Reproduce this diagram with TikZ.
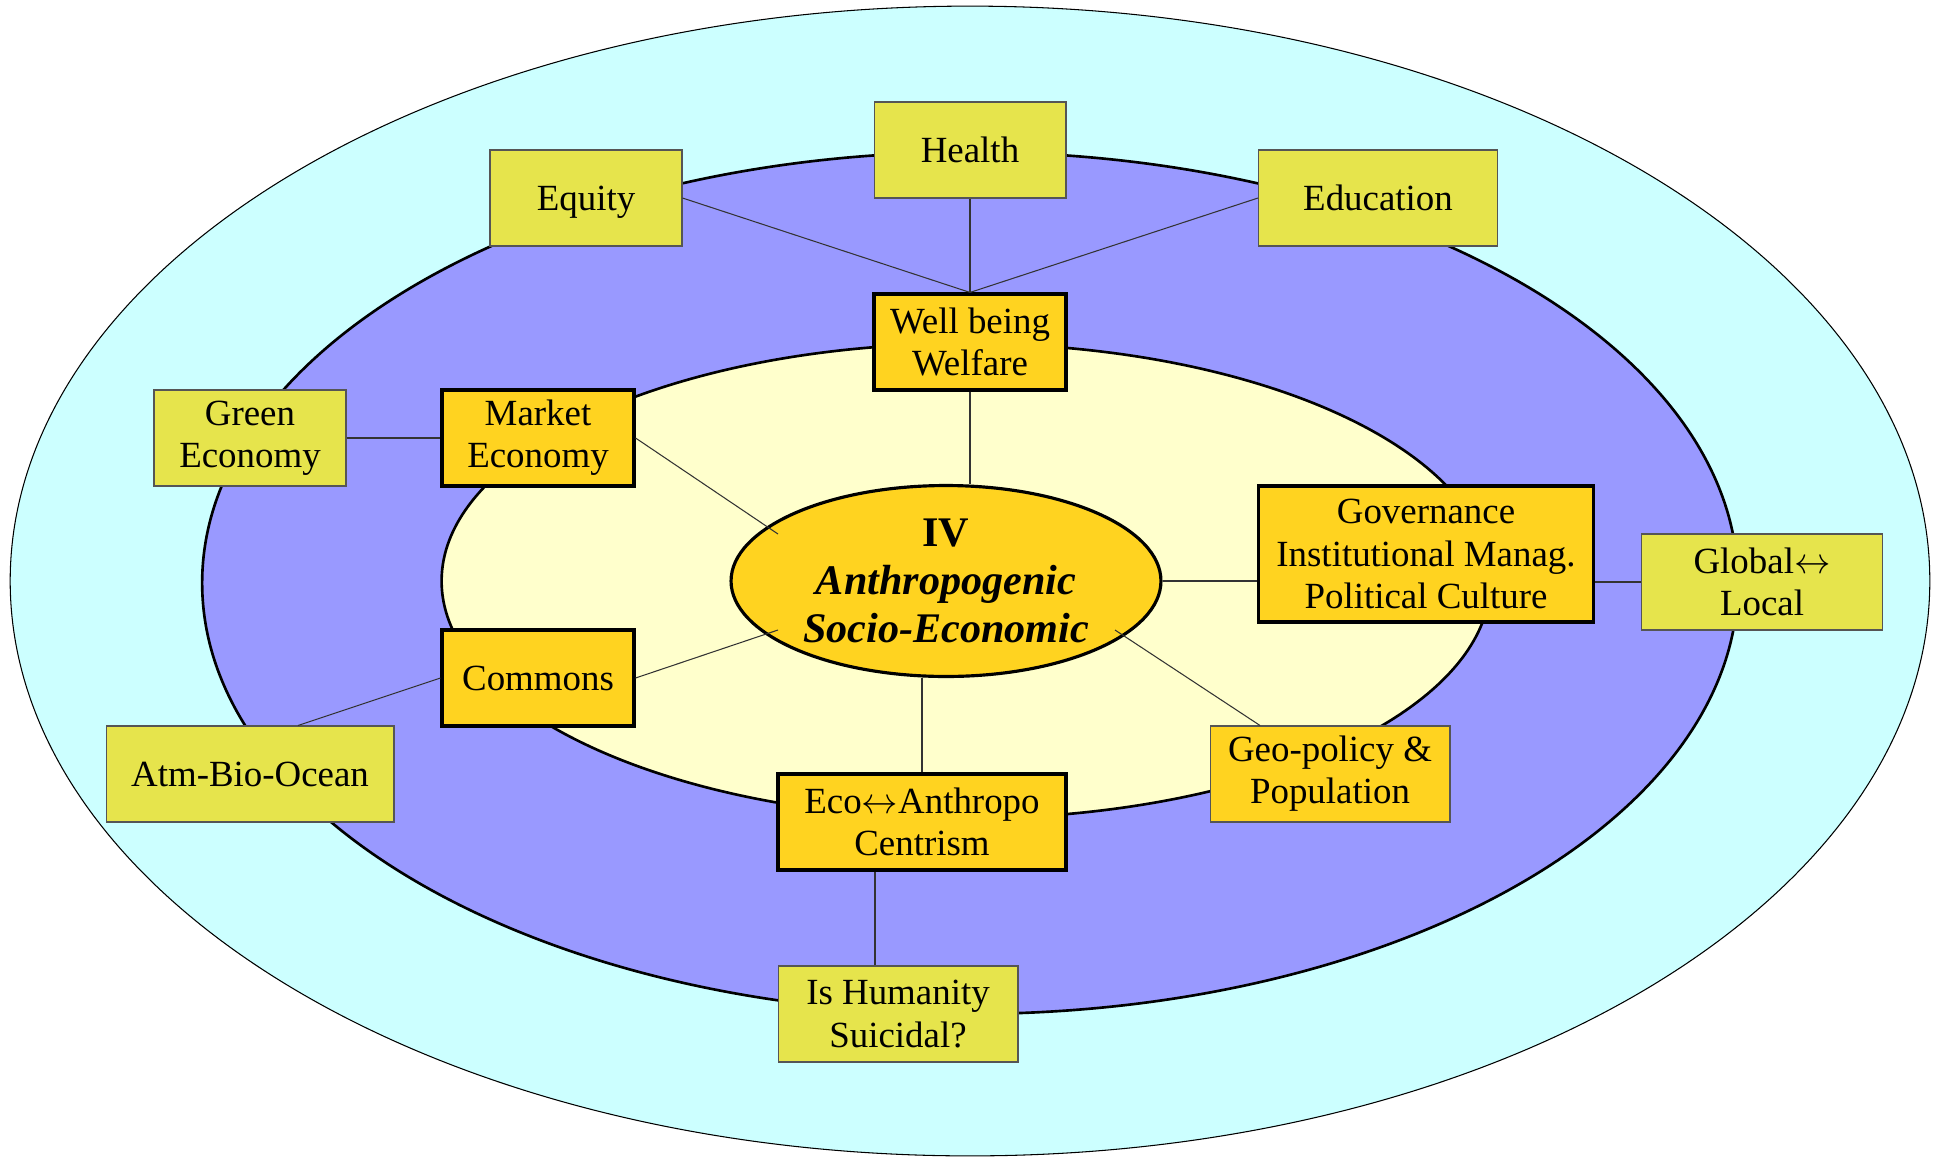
\documentclass[tikz,border=0pt]{standalone}
\usepackage{fontspec}
\setmainfont{Liberation Serif}
\usetikzlibrary{shapes.geometric}
\definecolor{cyanbg}{HTML}{CCFFFF}
\definecolor{purplebg}{HTML}{9999FF}
\definecolor{creambg}{HTML}{FFFFCC}
\definecolor{innerfill}{HTML}{FFD320}
\definecolor{outerfill}{HTML}{E6E44C}
\definecolor{boxline}{HTML}{555555}
\definecolor{linegray}{HTML}{333333}
\tikzset{%
  % Specifications for style of nodes:
          base/.style = {rectangle, minimum width=3.84cm, minimum height=1.92cm,
                         text centered, align=center, inner sep=2pt,
                         font=\fontsize{21}{24}\selectfont},
      outerbox/.style = {base, draw=boxline, line width=0.6pt, fill=outerfill},
      innerbox/.style = {base, draw=black, line width=1.8pt, fill=innerfill},
        geobox/.style = {outerbox, fill=innerfill},
        centre/.style = {ellipse, draw=black, line width=1.8pt, fill=innerfill,
                         minimum width=8.6cm, minimum height=3.82cm, inner sep=0pt,
                         align=center, font=\fontsize{24}{27.5}\selectfont\bfseries},
          link/.style = {draw=linegray, line width=0.6pt},
}

\begin{document}
\begin{tikzpicture}[x=0.02cm, y=-0.02cm]
  \useasboundingbox (0,0) rectangle (1940,1160);

  % Background rings
  \draw[fill=cyanbg, line width=0.6pt]   (970,581) ellipse [x radius=19.2cm, y radius=11.5cm];
  \draw[fill=purplebg, line width=1.5pt] (970,583) ellipse [x radius=15.36cm, y radius=8.62cm];
  \draw[fill=creambg, line width=1.5pt]  (966,581) ellipse [x radius=10.49cm, y radius=4.75cm];

  % Specification of nodes (position, etc.)
  \node (ce)     [centre] at (946,581)  {IV\\\itshape Anthropogenic\\\itshape Socio-Economic};
  \node (wb)     [innerbox] at (970,342) {Well being\\Welfare};
  \node (me)     [innerbox] at (538,438) {Market\\Economy};
  \node (com)    [innerbox] at (538,678) {Commons};
  \node (gov)    [innerbox, minimum width=6.7cm, minimum height=2.72cm]
                 at (1426,554) {Governance\\Institutional Manag.\\Political Culture};
  \node (eco)    [innerbox, minimum width=5.76cm] at (922,822)
                 {Eco$\leftrightarrow$Anthropo\\Centrism};
  \node (geo)    [geobox, minimum width=4.8cm] at (1330,774) {Geo-policy \&\\Population};
  \node (health) [outerbox] at (970,150)  {Health};
  \node (equity) [outerbox, text depth=0pt] at (586,198)  {Equity};
  \node (edu)    [outerbox, minimum width=4.78cm] at (1378,198) {Education};
  \node (green)  [outerbox] at (250,438)  {Green\\Economy};
  \node (abo)    [outerbox, minimum width=5.76cm] at (250,774) {Atm-Bio-Ocean};
  \node (gl)     [outerbox, minimum width=4.82cm] at (1762,582) {Global$\leftrightarrow$\\Local};
  \node (ih)     [outerbox, minimum width=4.8cm] at (898,1014) {Is Humanity\\Suicidal?};

  % free ends of the spokes into the centre
  \coordinate (meEnd)  at (778,534);
  \coordinate (comEnd) at (778,630);
  \coordinate (geoEnd) at (1115,630);
  \coordinate (geoTop) at ([xshift=-1.4cm]geo.north);
  \coordinate (aboTop) at ([xshift=0.96cm]abo.north);
  \coordinate (ihTop)  at ([xshift=-0.46cm]ih.north);

  % Specification of lines between nodes specified above
  \draw[link] (equity.east) -- (wb.north);
  \draw[link] (health.south) -- (wb.north);
  \draw[link] (edu.west) -- (wb.north);
  \draw[link] (wb.south) -- (wb.south |- ce.north);
  \draw[link] (green.east) -- (me.west);
  \draw[link] (me.east) -- (meEnd);
  \draw[link] (com.east) -- (comEnd);
  \draw[link] (aboTop) -- (com.west);
  \draw[link] (ce.east) -- (ce.east -| gov.west);
  \draw[link] (gl.west -| gov.east) -- (gl.west);
  \draw[link] (geoTop) -- (geoEnd);
  \draw[link] (eco.north) -- (eco.north |- ce.south);
  \draw[link] (ihTop) -- (ihTop |- eco.south);
\end{tikzpicture}
\end{document}
